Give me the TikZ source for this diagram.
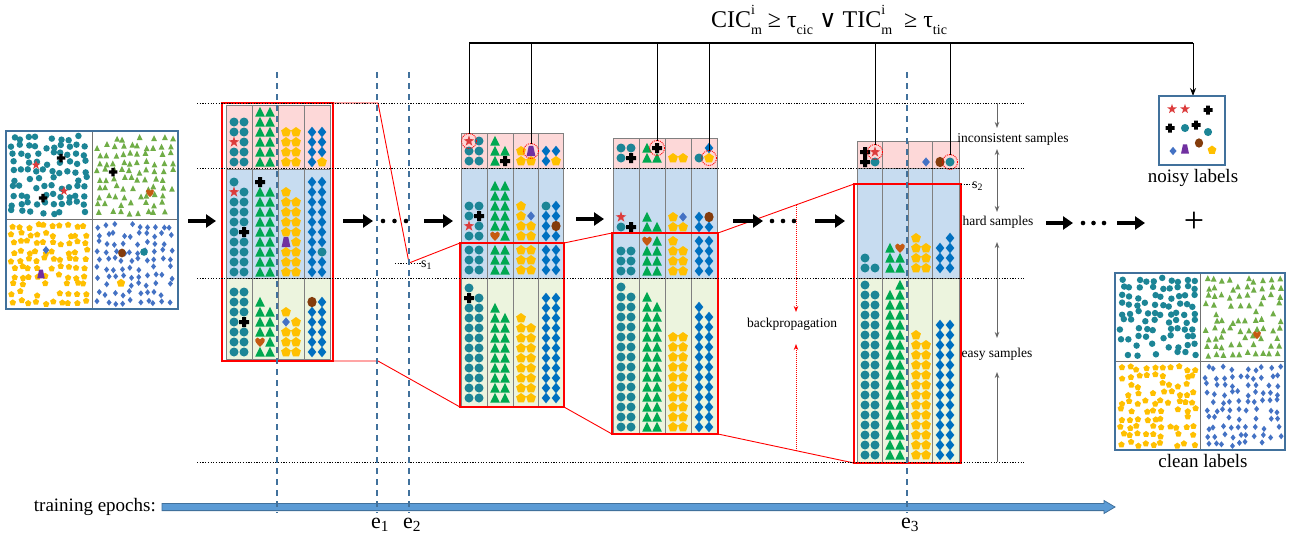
\documentclass[tikz,border=0pt]{standalone}
\usepackage{fontspec}
\setmainfont{Liberation Serif}
\newfontfamily\djv{DejaVu Serif}
\usetikzlibrary{arrows.meta}
\definecolor{cteal}{RGB}{28,133,150}
\definecolor{cgreen}{RGB}{0,168,80}
\definecolor{cyellow}{RGB}{255,192,0}
\definecolor{cblue}{RGB}{0,112,192}
\definecolor{cblueb}{RGB}{68,114,196}
\definecolor{cred}{RGB}{220,60,60}
\definecolor{corange}{RGB}{197,90,17}
\definecolor{cbrown}{RGB}{132,60,12}
\definecolor{cpurple}{RGB}{112,48,160}
\definecolor{sgreen}{RGB}{112,173,71}
\definecolor{steel}{RGB}{65,113,156}
\definecolor{barblue}{RGB}{91,155,213}
\definecolor{cpink}{RGB}{253,216,216}
\definecolor{cbluebg}{RGB}{199,220,240}
\definecolor{cgreenbg}{RGB}{236,244,222}
\def\symsc{1}
\newcommand\symC[2]{\fill[colC,shift={(#1,#2)},scale=\symsc] (0,0) circle[radius=4.5];}
\newcommand\symT[2]{\fill[colT,shift={(#1,#2)},scale=\symsc] (0,-5.2) -- (4.8,4.6) -- (-4.8,4.6) -- cycle;}
\newcommand\symP[2]{\fill[colP,shift={(#1,#2)},scale=\symsc] (0,-5) -- (4.9,-1.5) -- (3,4.3) -- (-3,4.3) -- (-4.9,-1.5) -- cycle;}
\newcommand\symD[2]{\fill[colD,shift={(#1,#2)},scale=\symsc] (0,-5.3) -- (4.3,0) -- (0,5.3) -- (-4.3,0) -- cycle;}
\newcommand\symd[2]{\fill[cold,shift={(#1,#2)},scale=\symsc] (0,-4.6) -- (3.9,0) -- (0,4.6) -- (-3.9,0) -- cycle;}
\newcommand\symS[2]{\fill[colS,shift={(#1,#2)},scale=\symsc] (0,-5.6) -- (1.3,-1.8) -- (5.3,-1.7) -- (2.1,0.7) -- (3.3,4.6) -- (0,2.3) -- (-3.3,4.6) -- (-2.1,0.7) -- (-5.3,-1.7) -- (-1.3,-1.8) -- cycle;}
\newcommand\symX[2]{\fill[colX,shift={(#1,#2)},scale=\symsc] (-2,-5) rectangle (2,5) (-5,-2) rectangle (5,2);}
\newcommand\symH[2]{\fill[colH,shift={(#1,#2)},scale=\symsc] (0,4.8) .. controls (-3,2) and (-5.5,-0.5) .. (-4.6,-2.8) .. controls (-3.8,-5) and (-1,-5) .. (0,-2.6) .. controls (1,-5) and (3.8,-5) .. (4.6,-2.8) .. controls (5.5,-0.5) and (3,2) .. (0,4.8) -- cycle;}
\newcommand\symB[2]{\fill[colB,shift={(#1,#2)},scale=\symsc] (0,0) ellipse[x radius=4.6,y radius=5.2];}
\newcommand\symU[2]{\fill[colU,shift={(#1,#2)},scale=\symsc] (-2.2,-5.2) -- (2.2,-5.2) -- (4.4,5) -- (-4.4,5) -- cycle;}
\newcommand\symE[2]{}
% stack: [start]{left}{bottom y}{list}
\newcommand\stk[4][0]{\foreach \sy [count=\i from #1] in {#4}{%
  \pgfmathsetmacro\xx{#2+8+10*mod(\i,2)}%
  \pgfmathsetmacro\yy{#3-10*floor(\i/2)}%
  \csname sym\sy\endcsname{\xx}{\yy}}}
\newcommand\stkn[5][0]{\foreach \i in {1,...,#4}{%
  \pgfmathsetmacro\k{\i-1+#1}%
  \pgfmathsetmacro\xx{#2+8+10*mod(\k,2)}%
  \pgfmathsetmacro\yy{#3-10*floor(\k/2)}%
  \csname sym#5\endcsname{\xx}{\yy}}}
% scatter: {x}{y}{w}{h}{sym}{seed}{scale}
\newcommand\scat[7]{\begingroup\def\symsc{#7}\pgfmathsetseed{#6}%
  \foreach \i in {0,...,9}{\foreach \j in {0,...,9}{%
    \pgfmathsetmacro\rr{rnd}%
    \pgfmathsetmacro\xx{#1+#3*(\i+0.5+0.55*(rnd-0.5))/10}%
    \pgfmathsetmacro\yy{#2+#4*(\j+0.5+0.55*(rnd-0.5))/10}%
    \ifdim\rr pt>0.12pt \csname sym#5\endcsname{\xx}{\yy}\fi}}\endgroup}
% block grid: x0..x4, top, pinkbottom, bluebottom, bottom
\newcommand\blk[9]{%
  \fill[cpink] (#1,#6) rectangle (#5,#7);
  \fill[cbluebg] (#1,#7) rectangle (#5,#8);
  \fill[cgreenbg] (#1,#8) rectangle (#5,#9);
  \draw[gridc] (#1,#6) rectangle (#5,#9) (#2,#6) -- (#2,#9) (#3,#6) -- (#3,#9) (#4,#6) -- (#4,#9) (#1,#7) -- (#5,#7) (#1,#8) -- (#5,#8);}
\newcommand\ssub[1]{\raisebox{-0.3em}{\fontsize{14}{14}\selectfont #1}}
\newcommand\ssup[2]{\rlap{\raisebox{0.55em}{\fontsize{14}{14}\selectfont #1}}\ssub{#2}}
\begin{document}
\begin{tikzpicture}[x=1pt,y=-1pt,
 colC/.style={fill=cteal}, colT/.style={fill=cgreen}, colP/.style={fill=cyellow},
 colD/.style={fill=cblue}, cold/.style={fill=cblueb}, colS/.style={fill=cred},
 colX/.style={fill=black}, colH/.style={fill=corange}, colB/.style={fill=cbrown},
 colU/.style={fill=cpurple},
 gridc/.style={draw=black!50, line width=0.7pt},
 redbox/.style={draw=red, line width=1.4pt},
 redln/.style={draw=red, line width=0.9pt},
 dotln/.style={draw=black, line width=1pt, dash pattern=on 1.2pt off 1.5pt},
 epochln/.style={draw=steel, line width=1.3pt, dash pattern=on 6pt off 5pt},
 bigarrow/.style={line width=3.4pt, -{Triangle[length=10pt,width=13pt]}},
 grayarr/.style={draw=black!60, line width=1pt, -{Stealth[length=6pt,width=4.5pt]}},
 bparr/.style={draw=red, line width=0.8pt, dash pattern=on 1pt off 1pt, -{Stealth[length=6pt,width=4.5pt]}},
 ringc/.style={draw=red, line width=0.9pt, dash pattern=on 1pt off 1pt},
 txt/.style={font=\fontsize{13.5}{15}\selectfont, inner sep=0pt},
 bigtxt/.style={font=\fontsize{19}{22}\selectfont, inner sep=0pt},
 boxframe/.style={draw=steel, line width=1.8pt},
 dividerln/.style={draw=black!55, line width=0.9pt}]
\fill[white] (0,0) rectangle (1295,536);
\useasboundingbox (0,0) rectangle (1295,536);

% ---------- left scatter box ----------
\scat{9}{134}{80}{82}{C}{11}{0.72}
{\tikzset{colT/.style={fill=sgreen}}\scat{95}{134}{80}{82}{T}{23}{0.6}}
\scat{9}{222}{80}{84}{P}{37}{0.65}
{\tikzset{colD/.style={fill=cblueb}}\scat{95}{222}{80}{84}{D}{41}{0.58}}
\begingroup\def\symsc{0.85}
\symS{36}{165}\symS{64}{191}\symX{61}{158}\symX{43}{198}
\symX{113}{172}\symH{150}{193}
\symd{46}{250}\symU{41}{274}
\symB{122}{253}\symC{144}{252}\symP{121}{283}
\endgroup
\coordinate (lb1) at (6,131); \coordinate (lb2) at (178,309);
\draw[dividerln] (92,131) -- (92,309) (6,219) -- (178,219);
\draw[boxframe] (lb1) rectangle (lb2);

% ---------- block 1 ----------
\blk{226}{252}{278}{304}{330}{105}{169}{278}{359}
\stk{226}{162}{C,C,C,C,S,C,C,C,C,C}
\stkn{252}{162}{12}{T}
\stkn{278}{162}{8}{P}
\stk{304}{162}{D,P,D,D,D,D,D,D}
\stk{226}{272}{C,C,C,C,C,C,C,C,C,X,C,C,C,C,C,C,S,C,C}
\stkn{252}{272}{18}{T}\stk[18]{252}{272}{X}
\stk{278}{272}{P,P,P,P,P,P,U,P,P,P,P,P,P,P,P,P,P}
\stk{304}{272}{D,D,D,D,D,C}\stkn[6]{304}{272}{14}{D}
\stk{226}{352}{C,C,C,C,C,C,C,X,C,C,C,C,C,C}
\stk{252}{352}{T,T,H,T,T,T,T,T,T,T,T}
\stk{278}{352}{P,P,P,P,P,P,d,P,P}
\stkn{304}{352}{10}{D}\stk[10]{304}{352}{B,D}

% ---------- block 2 ----------
\blk{461}{487}{513}{538}{563}{133}{168}{278}{406}
\stk{461}{161}{C,C,C,C,S,C}
\stk{487}{161}{T,X,T,T,T}
\stk{513}{161}{P,P,P,U}
\stk{538}{161}{D,P,D,D}
\stkn{461}{270}{6}{C}\stkn{487}{270}{6}{T}\stkn{513}{270}{6}{P}\stkn{538}{270}{6}{D}
\stk{461}{236}{C,C,S,C,C,X,C,C}
\stk{487}{236}{H,T}\stkn[2]{487}{236}{10}{T}
\stk{513}{236}{P,P,P,P,P,d,P}
\stk{538}{236}{D,D,D,B,D,D,C,D}
\stkn{461}{398}{20}{C}\stk[20]{461}{398}{X,C,C}
\stkn{487}{398}{19}{T}
\stkn{513}{398}{17}{P}
\stkn{538}{398}{22}{D}

% ---------- block 3 ----------
\blk{613}{639}{665}{691}{717}{138}{168}{278}{433}
\stk{613}{158}{C,X,C,C}
\stk{639}{158}{T,T,T,X}
\stk{665}{158}{P,P}
\stk{691}{158}{C,P,E,D}
\stkn{613}{271}{6}{C}
\stkn{639}{271}{6}{T}\stk[6]{639}{271}{H,T}
\stkn{665}{271}{7}{P}
\stkn{691}{271}{8}{D}
\stk{613}{227}{C,X,S}
\stk{639}{227}{T,T,T}
\stk{665}{227}{P,P,P,d}
\stk{691}{227}{D,D,D,B}
\stkn{613}{427}{29}{C}
\stkn{639}{427}{27}{T}
\stkn{665}{427}{20}{P}
\stkn{691}{427}{25}{D}

% ---------- block 4 ----------
\blk{857}{882}{908}{932}{959}{141}{168}{278}{463}
\stk{857}{162}{X,C,X,S}
\stk{908}{162}{E,d}
\stk{932}{162}{B,C}
\stk{857}{268}{C,C,C}
\stk{882}{268}{T,T,T,T,T,H}
\stkn{908}{268}{7}{P}
\stkn{932}{268}{6}{D}\stk[6]{932}{268}{E,D}
\stkn{857}{455}{35}{C}
\stkn{882}{455}{34}{T}\stk[34]{882}{455}{E,T}
\stkn{908}{455}{25}{P}
\stkn{932}{455}{28}{D}

% ---------- circled outliers ----------
\coordinate (o1) at (469,141); \coordinate (o2) at (531,151);
\coordinate (o3) at (657,148); \coordinate (o4) at (709,158);
\coordinate (o5) at (875,152); \coordinate (o6) at (950,162);
\foreach \o in {o1,o2,o3,o4,o5,o6} \draw[ringc] (\o) circle[radius=7.5];

% ---------- red zoom boxes ----------
\coordinate (r1a) at (222,103); \coordinate (r1b) at (333,361);
\coordinate (r2a) at (460,243); \coordinate (r2b) at (564,407);
\coordinate (r3a) at (612,233); \coordinate (r3b) at (718,434);
\coordinate (r4a) at (854,184); \coordinate (r4b) at (961,463);
\draw[redbox] (r1a) rectangle (r1b);
\draw[redbox] (r2a) rectangle (r2b);
\draw[redbox] (r3a) rectangle (r3b);
\draw[redbox] (r4a) rectangle (r4b);
\coordinate (k1) at (378,103); \coordinate (s1p) at (409,263); \coordinate (k2) at (378,361);
\draw[redln] (r1b |- r1a) -- (k1) -- (s1p) -- (r2a);
\draw[redln] (r1b) -- (k2) -- (r2a |- r2b);
\draw[redln] (r2b |- r2a) -- (r3a);
\draw[redln] (r2b) -- (r3a |- r3b);
\draw[redln] (r3b |- r3a) -- (r4a);
\draw[redln] (r3b) -- (r4a |- r4b);

% ---------- dotted level lines ----------
\foreach \y in {103,168,278,462} \draw[dotln] (197,\y) -- (1025,\y);
\coordinate (s1a) at (395,263);
\draw[dotln] (s1a) -- (421,263);
\node[anchor=base west, inner sep=0pt, font=\fontsize{14}{16}\selectfont] (s1lbl) at (421,267) {s\textsubscript{1}};
\coordinate (s2a) at (961,184);
\draw[dotln] (s2a) -- (972,184);
\node[anchor=base west, inner sep=0pt, font=\fontsize{14}{16}\selectfont] (s2lbl) at (972,188) {s\textsubscript{2}};

% ---------- timeline ----------
\coordinate (t0) at (162,507); \coordinate (t1) at (1115,507);
\draw[fill=barblue, draw=steel, line width=0.8pt] (t0) ++(0,-3.6) -- (1104,503.4) -- (1104,500.5) -- (t1) -- (1104,513.5) -- (1104,510.6) -- (162,510.6) -- cycle;
\node[bigtxt, anchor=east] (tlabel) at (156,507) {training epochs:};
\foreach \x/\n in {277/ep0,377/ep1,409/ep2,907/ep3} {
  \coordinate (\n a) at (\x,72); \coordinate (\n b) at (\x,513);
  \draw[epochln] (\n a) -- (\n b);}
\node[anchor=base west, inner sep=0pt, font=\fontsize{22}{24}\selectfont] (e1) at (371,528) {e\textsubscript{1}};
\node[anchor=base west, inner sep=0pt, font=\fontsize{22}{24}\selectfont] (e2) at (403,528) {e\textsubscript{2}};
\node[anchor=base west, inner sep=0pt, font=\fontsize{22}{24}\selectfont] (e3) at (901,528) {e\textsubscript{3}};

% ---------- process arrows ----------
\foreach \n/\xa/\xb/\y in {a1/188/216/221, a2/343/373/221, a3/424/453/221, a4/576/604/219, a5/733/763/221, a6/815/845/221, a7/1046/1073/223, a8/1117/1145/223} {
  \coordinate (\n s) at (\xa,\y); \coordinate (\n e) at (\xb,\y);
  \draw[bigarrow] (\n s) -- (\n e);}
\foreach \x/\y in {383/221,394.5/221,406/221,772/221,783/221,794/221,1083/223,1093.5/223,1104/223}
  \fill (\x,\y) circle[radius=2.3];

% ---------- backpropagation ----------
\coordinate (bp1) at (796,205); \coordinate (bp1e) at (796,312);
\coordinate (bp2) at (796,451); \coordinate (bp2e) at (796,344);
\draw[bparr] (bp1) -- (bp1e);
\draw[bparr] (bp2) -- (bp2e);
\node[txt] (bptxt) at (792,324) {backpropagation};

% ---------- right level labels ----------
\node[txt] (inc) at (1013,139) {inconsistent samples};
\node[txt] (hard) at (998,222) {hard samples};
\node[txt] (easy) at (997,354) {easy samples};
\draw[grayarr] (997,103) -- (997,128);
\draw[grayarr] (997,168) -- (997,149);
\draw[grayarr] (997,168) -- (997,212);
\draw[grayarr] (997,278) -- (997,242);
\draw[grayarr] (997,278) -- (997,338);
\draw[grayarr] (997,462) -- (997,372);

% ---------- top condition connectors ----------
\node[inner sep=0pt, font=\fontsize{24}{28}\selectfont] (cond) at (829,20)
  {CIC\ssup{i}{m} ≥ τ\ssub{cic} {\djv ∨} TIC\ssup{i}{m}\ \ ≥ τ\ssub{tic}};
\coordinate (top0) at (469,43); \coordinate (top1) at (1193,43);
\draw[line width=1.8pt] (top0) -- (top1);
\foreach \o in {o1,o2,o3,o4,o5,o6}
  \draw[line width=1pt] (\o |- top0) -- ([yshift=7.5pt]\o);
\coordinate (ntop) at (1193,96);
\draw[line width=1pt, -{Stealth[length=8pt,width=6pt]}] (top1) -- (ntop);

% ---------- noisy labels ----------
\coordinate (nb1) at (1159,96); \coordinate (nb2) at (1225,165);
\draw[boxframe] (nb1) rectangle (nb2);
\begingroup\def\symsc{0.9}
\symS{1172}{109}\symS{1185}{109}\symX{1208}{110}
\symX{1170}{128}\symC{1185}{128}\symX{1196}{125}\symC{1208}{132}
\symd{1173}{151}\symU{1185}{149}\symB{1199}{143}\symP{1212}{150}
\endgroup
\node[bigtxt] (noisy) at (1193,178) {noisy labels};
\node[inner sep=0pt, font=\fontsize{36}{36}\selectfont] (plus) at (1194,222) {+};

% ---------- clean labels ----------
\scat{1118}{276}{80}{82}{C}{53}{0.72}
{\tikzset{colT/.style={fill=sgreen}}\scat{1203}{276}{80}{82}{T}{67}{0.6}}
\scat{1118}{364}{80}{84}{P}{71}{0.65}
{\tikzset{colD/.style={fill=cblueb}}\scat{1203}{364}{80}{84}{D}{89}{0.58}}
\begingroup\def\symsc{0.85}\symH{1257}{335}\endgroup
\coordinate (cb1) at (1115,273); \coordinate (cb2) at (1285,450);
\draw[dividerln] (1200,273) -- (1200,450) (1115,361) -- (1285,361);
\draw[boxframe] (cb1) rectangle (cb2);
\node[bigtxt] (clean) at (1203,461) {clean labels};
\end{tikzpicture}
\end{document}
